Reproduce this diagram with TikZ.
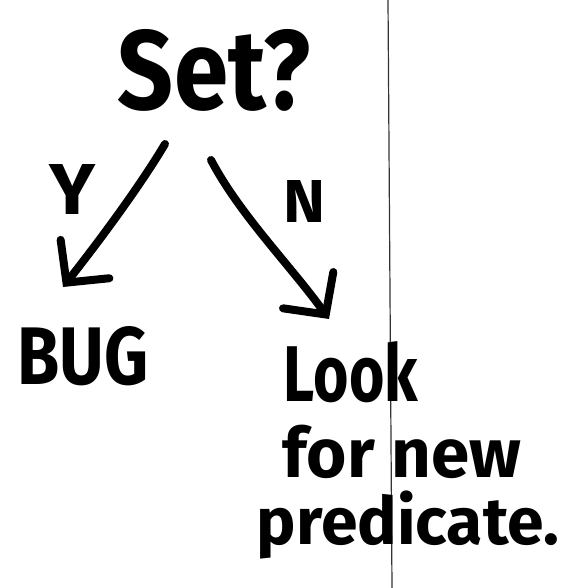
\documentclass[tikz,border=0pt]{standalone}
\usepackage{fontspec}
\usepackage{graphicx}
\setmainfont{Fira Sans}
\usetikzlibrary{arrows.meta}
% hand-lettered words: bold text stretched to a given width (and height)
\newcommand\handword[2]{\resizebox{#1}{!}{\bfseries #2}}
\newcommand\handbox[3]{\resizebox{#1}{#2}{\bfseries #3}}
\tikzset{
  ink/.style={line width=8pt, line cap=round, line join=round, black},
  barb/.style={-{Straight Barb[length=30pt, width=62pt, line width=8pt, line cap=round]}},
  word/.style={inner sep=0pt, anchor=center}
}
\begin{document}
\begin{tikzpicture}[x=1pt, y=-1pt]
  \useasboundingbox (0,0) rectangle (567,588);
  \fill[white] (0,0) rectangle (567,588);

  % fold line of the page
  \draw[line width=1.2pt, black!80] (388,0) -- (392,588);

  % words
  \node[word] (set)  at (214,70)  {\handbox{192pt}{80pt}{Set?}};
  \node[word] (yes)  at (73,189)  {\handbox{46pt}{50pt}{Y}};
  \node[word] (no)   at (304,201) {\handbox{42pt}{42pt}{N}};
  \node[word] (bug)  at (83,356)  {\handbox{131pt}{58pt}{BUG}};
  \node[word] (look) at (351,372) {\handbox{134pt}{60pt}{Look}};
  \node[word] (for)  at (402,452) {\handword{238pt}{for new}};
  \node[word] (pred) at (408,525) {\handword{302pt}{predicate.}};

  % branch ends
  \coordinate (ystart) at (165,144);
  \coordinate (yend)   at (63,287);
  \coordinate (nstart) at (211,160);
  \coordinate (nend)   at (329,319);

  % yes branch
  \draw[ink, barb] (ystart) .. controls (140,186) and (100,240) .. (yend);
  % no branch
  \draw[ink, barb] (nstart) .. controls (240,215) and (290,265) .. (nend);
\end{tikzpicture}
\end{document}
